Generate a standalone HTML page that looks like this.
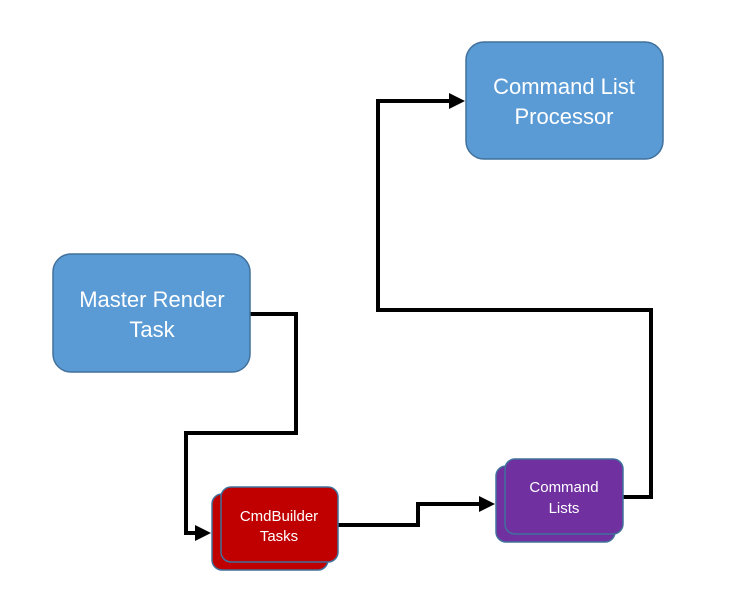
<!DOCTYPE html>
<html><head><meta charset="utf-8"><style>
html,body{margin:0;padding:0;background:#fff;width:736px;height:607px;overflow:hidden}
text{font-family:"Liberation Sans",sans-serif;fill:#fff;text-anchor:middle}
</style></head><body>
<svg width="736" height="607" viewBox="0 0 736 607" xmlns="http://www.w3.org/2000/svg">
<defs>
<marker id="ah" markerWidth="4" markerHeight="4" refX="3" refY="2" orient="auto" markerUnits="strokeWidth">
<path d="M0,0 L4,2 L0,4 z" fill="#000"/></marker>
</defs>
<g fill="none" stroke="#000" stroke-width="4">
<path d="M250,314 H296 V433 H186 V533 H207" marker-end="url(#ah)"/>
<path d="M338,525 H418 V504 H491" marker-end="url(#ah)"/>
<path d="M623,497 H651 V310 H378 V101 H461" marker-end="url(#ah)"/>
</g>
<rect x="53" y="254" width="197" height="118" rx="18" fill="#5B9BD5" stroke="#41719C" stroke-width="1.5"/>
<text x="152" y="307" font-size="22">Master Render</text>
<text x="152" y="337" font-size="22">Task</text>
<rect x="466" y="42" width="197" height="117" rx="18" fill="#5B9BD5" stroke="#41719C" stroke-width="1.5"/>
<text x="564" y="94" font-size="22">Command List</text>
<text x="564" y="124" font-size="22">Processor</text>
<rect x="212" y="494" width="116" height="76" rx="10" fill="#C00000" stroke="#41719C" stroke-width="1.5"/>
<rect x="221" y="487" width="117" height="75" rx="10" fill="#C00000" stroke="#41719C" stroke-width="1.5"/>
<text x="279" y="521" font-size="15">CmdBuilder</text>
<text x="279" y="541" font-size="15">Tasks</text>
<rect x="496" y="466" width="119" height="76" rx="10" fill="#7030A0" stroke="#41719C" stroke-width="1.5"/>
<rect x="505" y="459" width="118" height="75" rx="10" fill="#7030A0" stroke="#41719C" stroke-width="1.5"/>
<text x="564" y="492" font-size="15">Command</text>
<text x="564" y="513" font-size="15">Lists</text>
</svg>
</body></html>
